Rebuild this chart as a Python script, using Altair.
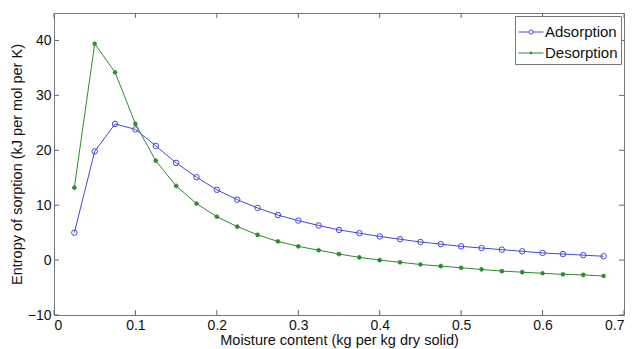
import altair as alt
import pandas as pd

moisture = [0.025, 0.05, 0.075, 0.1, 0.125, 0.15, 0.175, 0.2, 0.225, 0.25, 0.275, 0.3,
            0.325, 0.35, 0.375, 0.4, 0.425, 0.45, 0.475, 0.5, 0.525, 0.55, 0.575, 0.6,
            0.625, 0.65, 0.675]
adsorption = [5.0, 19.8, 24.8, 23.8, 20.8, 17.7, 15.1, 12.8, 11.0, 9.5, 8.2, 7.2,
              6.3, 5.5, 4.9, 4.3, 3.8, 3.3, 2.9, 2.5, 2.2, 1.9, 1.6, 1.3, 1.1, 0.9, 0.7]
desorption = [13.2, 39.4, 34.2, 24.8, 18.1, 13.5, 10.3, 7.9, 6.1, 4.6, 3.4, 2.5,
              1.8, 1.1, 0.5, 0.0, -0.4, -0.8, -1.1, -1.4, -1.7, -2.0, -2.2, -2.4, -2.6, -2.7, -2.9]
series_names = ["Adsorption", "Desorption"]
series_colors = ["#4646dc", "#2e8a2e"]
x_ticks = [0, 0.1, 0.2, 0.3, 0.4, 0.5, 0.6, 0.7]
y_ticks = [-10, 0, 10, 20, 30, 40]

W, H = 570, 302
FONT = "Liberation Sans"

df = pd.DataFrame({
    "x": moisture * 2,
    "y": adsorption + desorption,
    "series": [series_names[0]] * len(moisture) + [series_names[1]] * len(moisture),
})

xs = alt.Scale(domain=[0, 0.7], nice=False, zero=False)
ys = alt.Scale(domain=[-10, 45], nice=False, zero=False)
cs = alt.Scale(domain=series_names, range=series_colors)

ASTER = "M-1,0L1,0M0,-1L0,1M-0.7,-0.7L0.7,0.7M-0.7,0.7L0.7,-0.7"
LEG_CIRCLE = ("M-1,0L-0.17,0M0.17,0L1,0"
              "M0.17,0L0.12,0.12L0,0.17L-0.12,0.12L-0.17,0L-0.12,-0.12L0,-0.17L0.12,-0.12Z")
LEG_ASTER = "M-1,0L1,0M0,-0.12L0,0.12M-0.09,-0.09L0.09,0.09M-0.09,0.09L0.09,-0.09"

base = alt.Chart(df)
col = alt.Color("series:N", scale=cs, legend=alt.Legend(title=None))

lines = base.mark_line(strokeWidth=1).encode(
    x=alt.X("x:Q", scale=xs, axis=alt.Axis(
        title="Moisture content (kg per kg dry solid)", values=x_ticks, ticks=False,
        domain=False, grid=False, labelPadding=3, titlePadding=1,
        labelExpr="datum.value == 0 ? '0' : format(datum.value, '.1f')")),
    y=alt.Y("y:Q", scale=ys, axis=alt.Axis(
        title="Entropy of sorption (kJ per mol per K)", values=y_ticks, ticks=False,
        domain=False, grid=False, labelPadding=3, titlePadding=3)),
    color=col,
    detail="series:N",
)

pts_a = base.transform_filter(alt.datum.series == series_names[0]).mark_point(
    shape="circle", filled=False, size=30, strokeWidth=1, opacity=1
).encode(x="x:Q", y="y:Q", color=col)

pts_d = base.transform_filter(alt.datum.series == series_names[1]).mark_point(
    shape=ASTER, filled=False, size=22, strokeWidth=1.2, opacity=1
).encode(x="x:Q", y="y:Q", color=col)

legend_layer = base.mark_point(opacity=0, filled=False).encode(
    x="x:Q", y="y:Q",
    color=col,
    shape=alt.Shape("series:N", scale=alt.Scale(domain=series_names, range=[LEG_CIRCLE, LEG_ASTER]),
                    legend=alt.Legend(title=None)),
)

xt = pd.DataFrame({"v": x_ticks})
yt = pd.DataFrame({"v": y_ticks})
xtick_b = alt.Chart(xt).mark_rule(color="#666", strokeWidth=1).encode(
    x=alt.X("v:Q", scale=xs), y=alt.value(H), y2=alt.value(H - 5))
xtick_t = alt.Chart(xt).mark_rule(color="#666", strokeWidth=1).encode(
    x=alt.X("v:Q", scale=xs), y=alt.value(0), y2=alt.value(5))
ytick_l = alt.Chart(yt).mark_rule(color="#666", strokeWidth=1).encode(
    y=alt.Y("v:Q", scale=ys), x=alt.value(0), x2=alt.value(5))
ytick_r = alt.Chart(yt).mark_rule(color="#666", strokeWidth=1).encode(
    y=alt.Y("v:Q", scale=ys), x=alt.value(W), x2=alt.value(W - 5))

chart = alt.layer(
    xtick_b, xtick_t, ytick_l, ytick_r, lines, pts_a, pts_d, legend_layer
).properties(
    width=W, height=H,
    autosize=alt.AutoSizeParams(type="none"),
    padding={"left": 54, "top": 13, "right": 14, "bottom": 34},
    background="white",
).configure_view(
    stroke="#777", strokeWidth=1
).configure_axis(
    labelFont=FONT, titleFont=FONT, labelFontSize=14, titleFontSize=14.5,
    labelColor="#111", titleColor="#111", titleFontWeight="normal",
).configure_legend(
    orient="top-right", offset=3, padding=3, strokeColor="#777", fillColor="white",
    labelFont=FONT, labelFontSize=15, labelColor="#111",
    symbolSize=625, symbolOpacity=1, symbolStrokeWidth=1,
    rowPadding=0, labelOffset=1, cornerRadius=0,
)

chart.save("out.html", embed_options={"renderer": "svg", "actions": False})
